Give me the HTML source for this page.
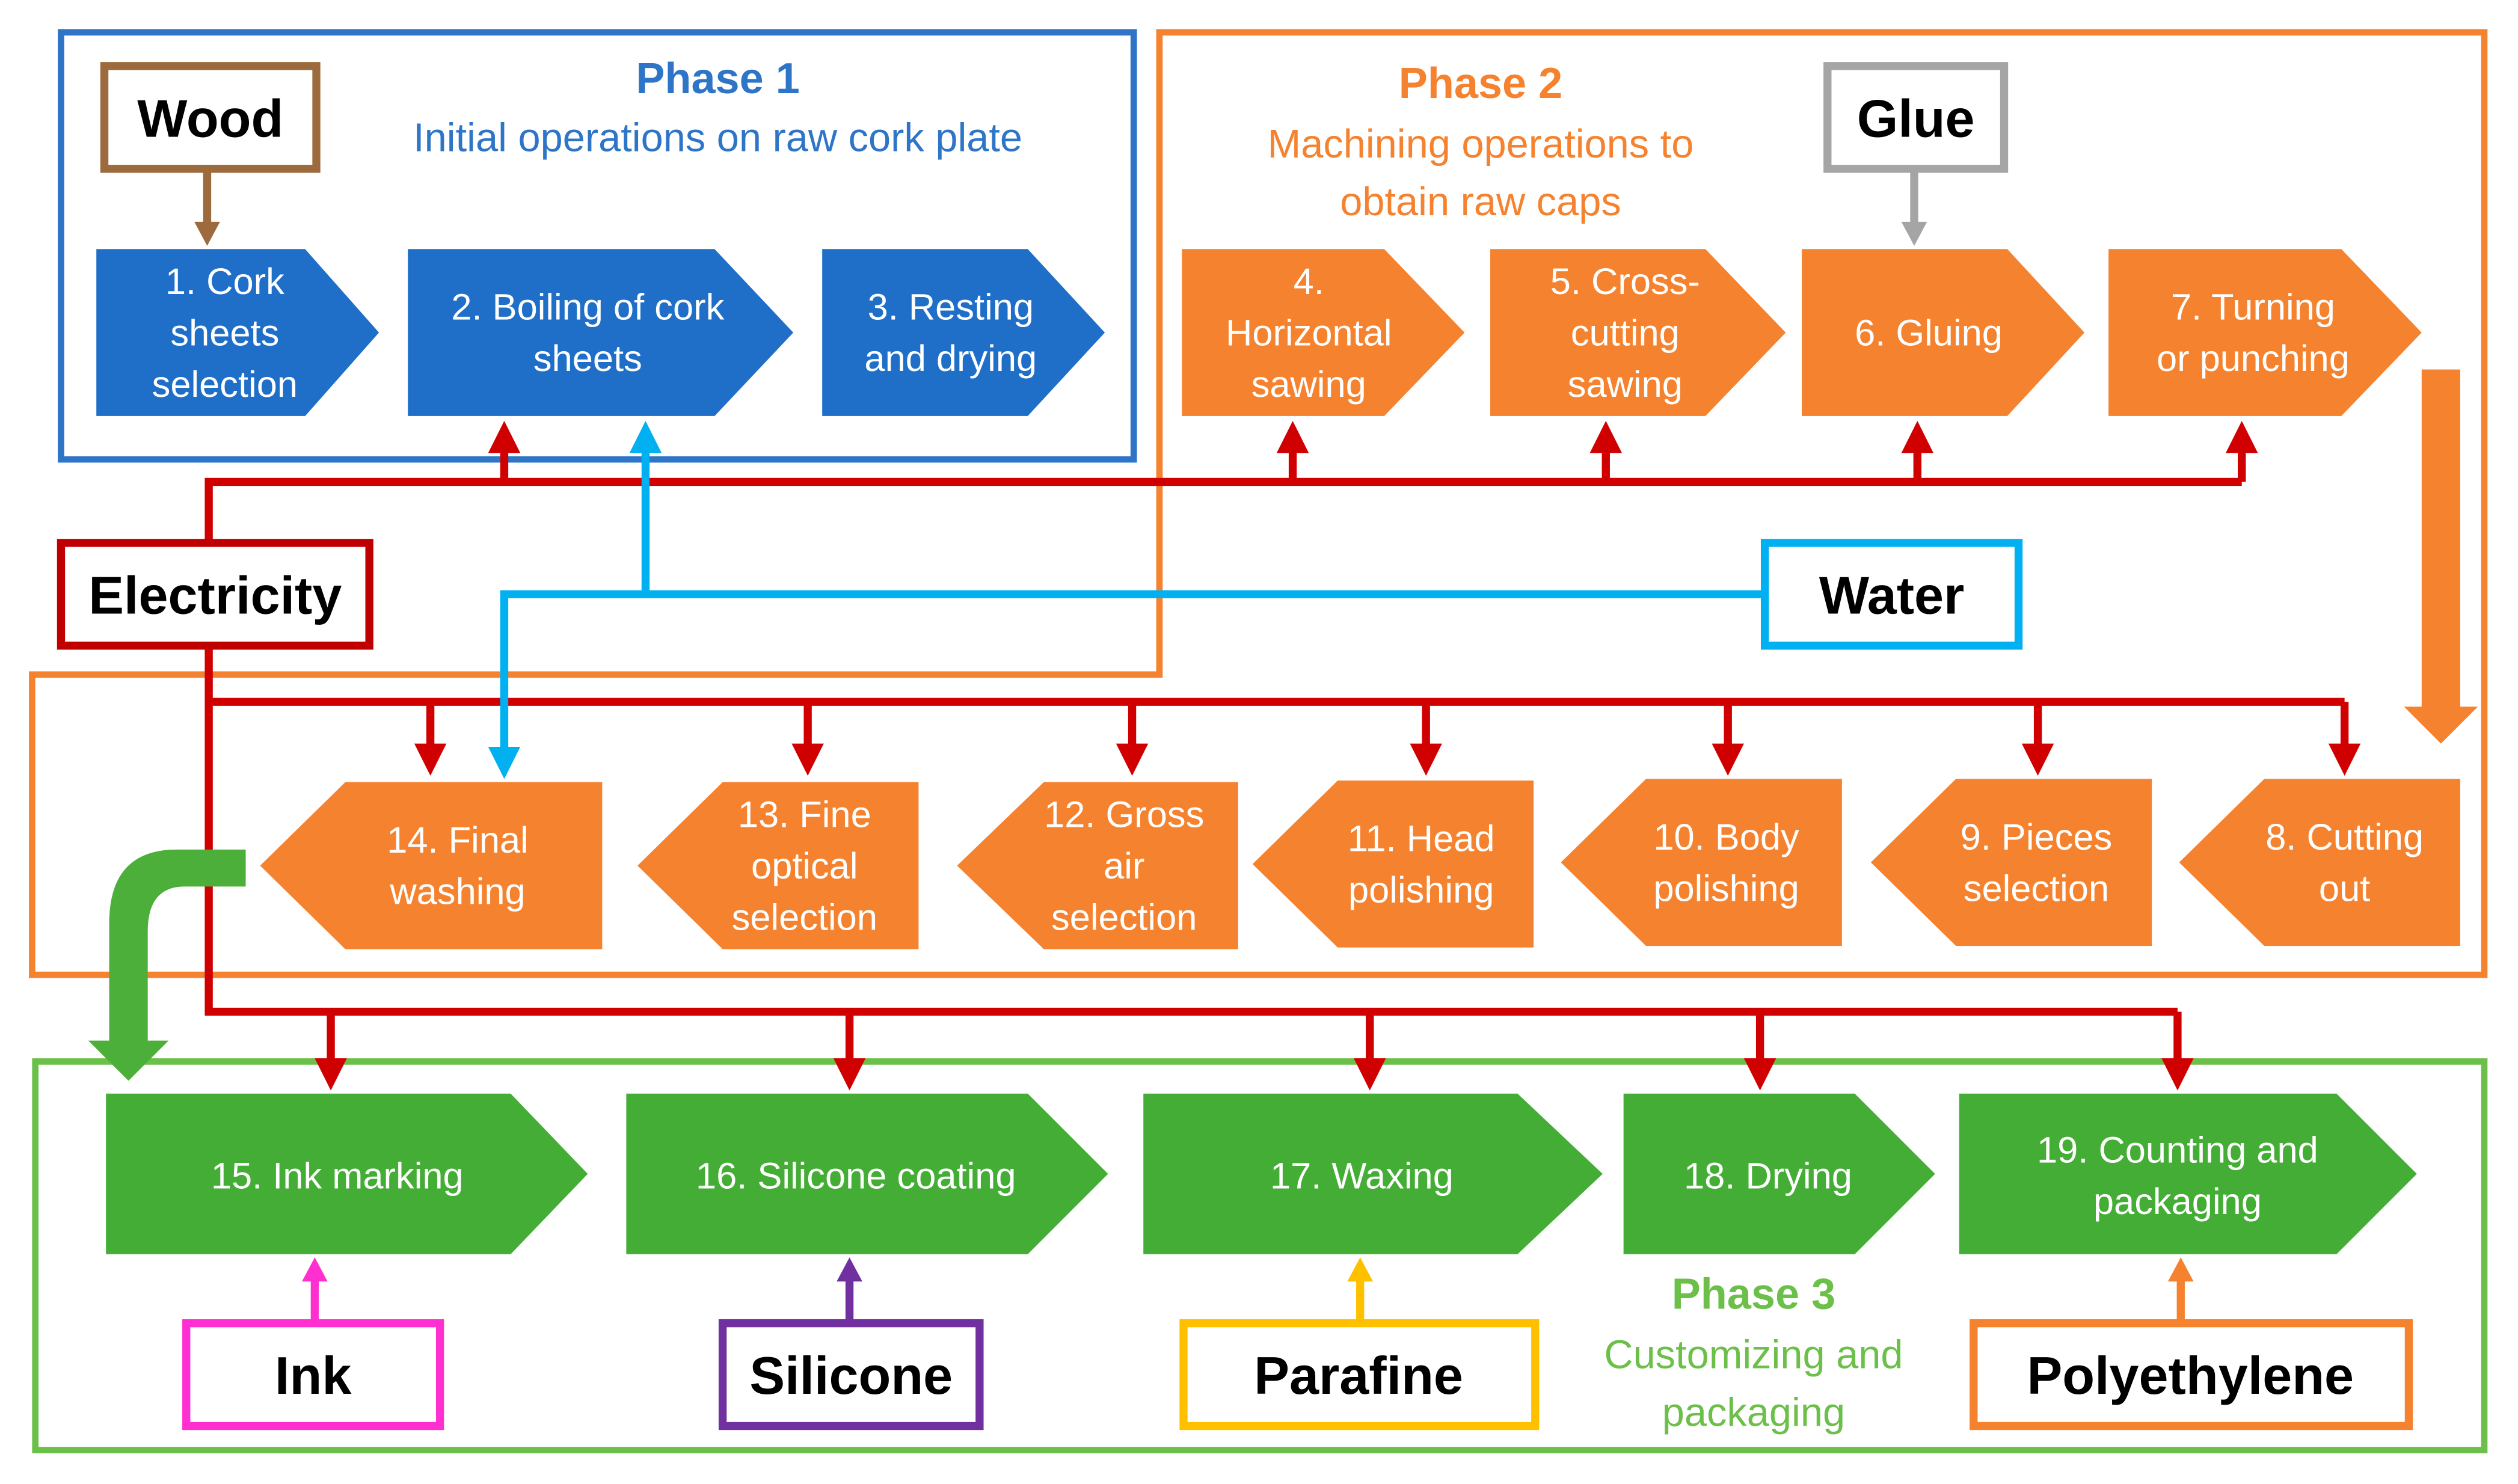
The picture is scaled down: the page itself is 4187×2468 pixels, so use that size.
<!DOCTYPE html>
<html><head><meta charset="utf-8"><style>
html,body{margin:0;padding:0;background:#fff;}
svg{display:block;}
text{font-family:"Liberation Sans",sans-serif;}
</style></head><body>
<svg width="4187" height="2468" viewBox="0 0 1568 924" xmlns="http://www.w3.org/2000/svg">
<defs>
<marker id="ar" markerWidth="4" markerHeight="4" refX="2" refY="2" orient="auto" markerUnits="strokeWidth"><path d="M0,0 L4,2 L0,4 z" fill="#d00000"/></marker>
<marker id="ab" markerWidth="4" markerHeight="4" refX="2" refY="2" orient="auto" markerUnits="strokeWidth"><path d="M0,0 L4,2 L0,4 z" fill="#00b0f0"/></marker>
</defs>
<rect width="1568" height="924" fill="#fff"/>
<!-- phase boxes -->
<rect x="38" y="20" width="668" height="266" fill="none" stroke="#2e75c8" stroke-width="4"/>
<polygon points="722,20 1547,20 1547,607 20,607 20,420 722,420" fill="none" stroke="#f5822f" stroke-width="4"/>
<rect x="22" y="661" width="1525" height="242" fill="none" stroke="#6cc04a" stroke-width="4"/>

<!-- red lines -->
<g stroke="#d00000" stroke-width="5" fill="none">
<polyline points="130,338 130,300 1396,300"/>
<line x1="314" y1="300" x2="314" y2="272" marker-end="url(#ar)"/>
<line x1="805" y1="300" x2="805" y2="272" marker-end="url(#ar)"/>
<line x1="1000" y1="300" x2="1000" y2="272" marker-end="url(#ar)"/>
<line x1="1194" y1="300" x2="1194" y2="272" marker-end="url(#ar)"/>
<line x1="1396" y1="300" x2="1396" y2="272" marker-end="url(#ar)"/>
<polyline points="130,402 130,630 1356,630"/>
<line x1="130" y1="437" x2="1460" y2="437"/>
<line x1="268" y1="437" x2="268" y2="473" marker-end="url(#ar)"/>
<line x1="503" y1="437" x2="503" y2="473" marker-end="url(#ar)"/>
<line x1="705" y1="437" x2="705" y2="473" marker-end="url(#ar)"/>
<line x1="888" y1="437" x2="888" y2="473" marker-end="url(#ar)"/>
<line x1="1076" y1="437" x2="1076" y2="473" marker-end="url(#ar)"/>
<line x1="1269" y1="437" x2="1269" y2="473" marker-end="url(#ar)"/>
<line x1="1460" y1="437" x2="1460" y2="473" marker-end="url(#ar)"/>
<line x1="206" y1="630" x2="206" y2="669" marker-end="url(#ar)"/>
<line x1="529" y1="630" x2="529" y2="669" marker-end="url(#ar)"/>
<line x1="853" y1="630" x2="853" y2="669" marker-end="url(#ar)"/>
<line x1="1096" y1="630" x2="1096" y2="669" marker-end="url(#ar)"/>
<line x1="1356" y1="630" x2="1356" y2="669" marker-end="url(#ar)"/>
</g>
<!-- blue lines -->
<g stroke="#00b0f0" stroke-width="5" fill="none">
<polyline points="1099,370 314,370 314,475" marker-end="url(#ab)"/>
<line x1="402" y1="370" x2="402" y2="272" marker-end="url(#ab)"/>
</g>
<!-- brown / gray / other input arrows -->
<line x1="129" y1="105" x2="129" y2="140" stroke="#9c6a3c" stroke-width="5"/>
<path d="M121,138 L137,138 L129,153 z" fill="#9c6a3c"/>
<line x1="1192" y1="105" x2="1192" y2="140" stroke="#a5a5a5" stroke-width="5"/>
<path d="M1184,138 L1200,138 L1192,153 z" fill="#a5a5a5"/>
<line x1="196" y1="824" x2="196" y2="796" stroke="#ff2fd0" stroke-width="5"/>
<path d="M188,798 L204,798 L196,783 z" fill="#ff2fd0"/>
<line x1="529" y1="824" x2="529" y2="796" stroke="#7030a0" stroke-width="5"/>
<path d="M521,798 L537,798 L529,783 z" fill="#7030a0"/>
<line x1="847" y1="824" x2="847" y2="796" stroke="#ffc000" stroke-width="5"/>
<path d="M839,798 L855,798 L847,783 z" fill="#ffc000"/>
<line x1="1358" y1="824" x2="1358" y2="796" stroke="#f5822f" stroke-width="5"/>
<path d="M1350,798 L1366,798 L1358,783 z" fill="#f5822f"/>

<!-- orange big down arrow -->
<path d="M1508,230 L1532,230 L1532,440 L1543,440 L1520,463 L1497,440 L1508,440 z" fill="#f5822f"/>
<!-- green curved arrow -->
<path d="M153,529 L110,529 Q68,529 68,575 L68,648 L55,648 L80,673 L105,648 L92,648 L92,580 Q92,552 115,552 L153,552 z" fill="#4caf3a"/>

<!-- phase 1 nodes -->
<g fill="#1f6fc8">
<polygon points="60,155 190,155 236,207 190,259 60,259"/>
<polygon points="254,155 445,155 494,207 445,259 254,259"/>
<polygon points="512,155 640,155 688,207 640,259 512,259"/>
</g>
<!-- phase 2 nodes -->
<g fill="#f5822f">
<polygon points="736,155 862,155 912,207 862,259 736,259"/>
<polygon points="928,155 1062,155 1112,207 1062,259 928,259"/>
<polygon points="1122,155 1250,155 1298,207 1250,259 1122,259"/>
<polygon points="1313,155 1458,155 1508,207 1458,259 1313,259"/>
<polygon points="375,487 215,487 162,539 215,591 375,591"/>
<polygon points="572,487 450,487 397,539 450,591 572,591"/>
<polygon points="771,487 650,487 596,539 650,591 771,591"/>
<polygon points="955,486 833,486 780,538 833,590 955,590"/>
<polygon points="1147,485 1025,485 972,537 1025,589 1147,589"/>
<polygon points="1340,485 1218,485 1165,537 1218,589 1340,589"/>
<polygon points="1532,485 1410,485 1357,537 1410,589 1532,589"/>
</g>
<!-- phase 3 nodes -->
<g fill="#44ad35">
<polygon points="66,681 318,681 366,731 318,781 66,781"/>
<polygon points="390,681 640,681 690,731 640,781 390,781"/>
<polygon points="712,681 945,681 998,731 945,781 712,781"/>
<polygon points="1011,681 1155,681 1205,731 1155,781 1011,781"/>
<polygon points="1220,681 1455,681 1505,731 1455,781 1220,781"/>
</g>

<!-- node labels -->
<g fill="#fff" font-size="23" text-anchor="middle">
<text x="140" y="183">1. Cork</text><text x="140" y="215">sheets</text><text x="140" y="247">selection</text>
<text x="366" y="199">2. Boiling of cork</text><text x="366" y="231">sheets</text>
<text x="592" y="199">3. Resting</text><text x="592" y="231">and drying</text>
<text x="815" y="183">4.</text><text x="815" y="215">Horizontal</text><text x="815" y="247">sawing</text>
<text x="1012" y="183">5. Cross-</text><text x="1012" y="215">cutting</text><text x="1012" y="247">sawing</text>
<text x="1201" y="215">6. Gluing</text>
<text x="1403" y="199">7. Turning</text><text x="1403" y="231">or punching</text>
<text x="285" y="531">14. Final</text><text x="285" y="563">washing</text>
<text x="501" y="515">13. Fine</text><text x="501" y="547">optical</text><text x="501" y="579">selection</text>
<text x="700" y="515">12. Gross</text><text x="700" y="547">air</text><text x="700" y="579">selection</text>
<text x="885" y="530">11. Head</text><text x="885" y="562">polishing</text>
<text x="1075" y="529">10. Body</text><text x="1075" y="561">polishing</text>
<text x="1268" y="529">9. Pieces</text><text x="1268" y="561">selection</text>
<text x="1460" y="529">8. Cutting</text><text x="1460" y="561">out</text>
<text x="210" y="740">15. Ink marking</text>
<text x="533" y="740">16. Silicone coating</text>
<text x="848" y="740">17. Waxing</text>
<text x="1101" y="740">18. Drying</text>
<text x="1356" y="724">19. Counting and</text><text x="1356" y="756">packaging</text>
</g>

<!-- phase titles -->
<g text-anchor="middle">
<text x="447" y="58" font-size="27" font-weight="bold" fill="#2e75c8">Phase 1</text>
<text x="447" y="94" font-size="25" fill="#2e75c8">Initial operations on raw cork plate</text>
<text x="922" y="61" font-size="27" font-weight="bold" fill="#f5822f">Phase 2</text>
<text x="922" y="98" font-size="25" fill="#f5822f">Machining operations to</text>
<text x="922" y="134" font-size="25" fill="#f5822f">obtain raw caps</text>
<text x="1092" y="815" font-size="27" font-weight="bold" fill="#6cc04a">Phase 3</text>
<text x="1092" y="852" font-size="25" fill="#6cc04a">Customizing and</text>
<text x="1092" y="888" font-size="25" fill="#6cc04a">packaging</text>
</g>

<!-- resource boxes -->
<g stroke-width="5" fill="#fff">
<rect x="65" y="41" width="132" height="64" stroke="#9c6a3c"/>
<rect x="1138" y="41" width="110" height="64" stroke="#a5a5a5"/>
<rect x="38" y="338" width="192" height="64" stroke="#c00000"/>
<rect x="1099" y="338" width="158" height="64" stroke="#00b0f0"/>
<rect x="116" y="824" width="158" height="64" stroke="#ff2fd0"/>
<rect x="450" y="824" width="160" height="64" stroke="#7030a0"/>
<rect x="737" y="824" width="219" height="64" stroke="#ffc000"/>
<rect x="1229" y="824" width="271" height="64" stroke="#f5822f"/>
</g>
<g font-size="33" font-weight="bold" fill="#000" text-anchor="middle">
<text x="131" y="85">Wood</text>
<text x="1193" y="85">Glue</text>
<text x="134" y="382">Electricity</text>
<text x="1178" y="382">Water</text>
<text x="195" y="868">Ink</text>
<text x="530" y="868">Silicone</text>
<text x="846" y="868">Parafine</text>
<text x="1364" y="868">Polyethylene</text>
</g>
</svg>
</body></html>
